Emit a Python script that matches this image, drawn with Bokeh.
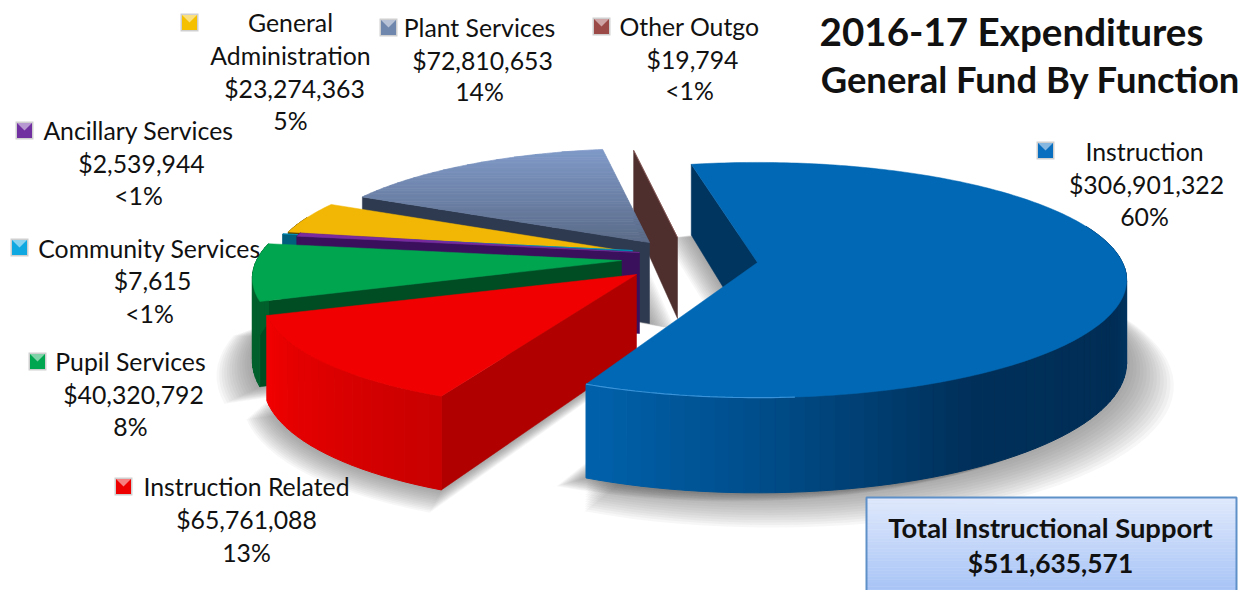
import math
from bokeh.plotting import figure
from bokeh.models import Range1d
from bokeh.core.properties import value
from bokeh.embed import file_html
from bokeh.resources import INLINE

# ---- data ----
categories = ["Instruction", "Instruction Related", "Pupil Services", "Community Services",
              "Ancillary Services", "General Administration", "Plant Services", "Other Outgo"]
amounts = [306901322, 65761088, 40320792, 7615, 2539944, 23274363, 72810653, 19794]
percents = ["60%", "13%", "8%", "<1%", "<1%", "5%", "14%", "<1%"]
total_label = "Total Instructional Support"
total_amount = 511635571
title_lines = ["2016-17 Expenditures", "General Fund By Function"]

# ---- layout ----
W, H = 1250, 590
START = -102.0
RX, RV, K, DEPTH = 365.0, 115.0, 0.149, 81.0
# apex x, apex y, radius scale, skew
GEOM = [(757, 262, 1.0, 0), (636, 274, 1.0, -150), (621, 260, 1.0, 0), (632, 250, .99, 0),
        (639, 252, .97, 0), (627, 251, .97, 0), (649, 242, .94, 0), (677, 237, .88, 0)]
# small view-angle corrections of a slice's (start, end)
ANG = {6: (0.0, 3.0), 7: (3.0, 3.0)}
TOP = ["#0068b4", "#f00000", "#00a64f", "#00a0d0", "#7a2a9e", "#f2b705", "#7f97c6", "#8a5a58"]
WALL = ["#003560", "#b00000", "#004d24", "#005f7c", "#3a0f5c", "#5a4400", "#2e3a50", "#4f2f2e"]
LEG = ["#0b6fc0", "#ee0000", "#00a650", "#10a8e0", "#7030a0", "#f5c000", "#6f86ad", "#9c4a48"]
BAND = {0: [(-30, "#003a6a"), (0, "#003a6a"), (25, "#002d55"), (60, "#00305a"), (90, "#004d8a"), (114, "#0062ac")],
        1: [(114, "#c80000"), (135, "#dc0000"), (161, "#f40000")],
        2: [(160, "#00602c"), (189, "#00602c")],
        }

def hex2(c): return [int(c[i:i+2], 16) for i in (1, 3, 5)]
def mix(a, b, t):
    A, B = hex2(a), hex2(b)
    return "#%02x%02x%02x" % tuple(round(A[i] + (B[i] - A[i]) * t) for i in range(3))

def pt(i, th, r=1.0):
    ax, ay, rs, sk = GEOM[i]
    t = math.radians(th)
    v = math.sin(t) * r
    s = 1 / (1 - K * v)
    return (ax + RX * rs * r * math.cos(t) * s + sk * (s - 1),
            ay + RV * rs * v * s,
            DEPTH * s)

def frange(a, b, step=1.5):
    n = max(2, int(abs(b - a) / step) + 1)
    return [a + (b - a) * j / (n - 1) for j in range(n)]

def band_color(i, th):
    stops = BAND.get(i)
    if not stops:
        return WALL[i]
    if th <= stops[0][0]:
        return stops[0][1]
    for (a, ca), (b, cb) in zip(stops, stops[1:]):
        if th <= b:
            return mix(ca, cb, (th - a) / (b - a))
    return stops[-1][1]

def clip(poly, y0, y1):
    def half(P, keep, cross):
        out = []
        for k in range(len(P)):
            a, b = P[k], P[(k + 1) % len(P)]
            if keep(a):
                out.append(a)
            if keep(a) != keep(b):
                t = (cross - a[1]) / (b[1] - a[1])
                out.append((a[0] + (b[0] - a[0]) * t, cross))
        return out
    P = half(poly, lambda q: q[1] >= y0, y0)
    if P:
        P = half(P, lambda q: q[1] <= y1, y1)
    return P

p = figure(width=W, height=H, output_backend="svg", toolbar_location=None,
           x_range=Range1d(0, W), y_range=Range1d(H, 0),
           x_axis_type=None, y_axis_type=None, min_border=0,
           outline_line_color=None, background_fill_color="white", border_fill_color="white")
p.grid.visible = False

total = sum(amounts)
spans = []
a = START
for k, v in enumerate(amounts):
    b = a + 360.0 * v / total
    d0, d1 = ANG.get(k, (0.0, 0.0))
    spans.append((a + d0, b + d1))
    a = b

# soft shadow under the pie
SH = [(0, 1.09, 14, 14), (0, 1.02, -26, 4), (1, 1.05, -2, 12), (2, 1.07, -10, 8), (6, 1.0, 26, 6)]
for i, grow, dx, dy in SH:
    a, b = spans[i]
    ax, ay, _, _ = GEOM[i]
    for n in range(14, -1, -1):
        f = n / 14
        xs, ys = [ax + dx * f], [ay + DEPTH + dy * f]
        for th in frange(a, b, 3):
            x, y, d = pt(i, th)
            xs.append(ax + dx * f + (x - ax) * (1 + (grow - 1) * f))
            ys.append(ay + dy * f + (y + d - ay) * (1 + (grow - 1) * f))
        p.patch(xs, ys, fill_color="#606060", fill_alpha=0.05, line_color=None)

for i in [7, 6, 5, 3, 4, 2, 1, 0]:
    a, b = spans[i]
    # start wall
    x0, y0, d0 = pt(i, a)
    ax, ay, _, _ = GEOM[i]
    p.patch([ax, x0, x0, ax], [ay, y0, y0 + d0, ay + DEPTH],
            fill_color=WALL[i], line_color=WALL[i], line_width=0.5)
    # rim side
    ths = [t for t in frange(a, b, 2.0) if math.sin(math.radians(t)) > -0.35]
    qx, qy, qc = [], [], []
    for t0, t1 in zip(ths, ths[1:]):
        x1, y1, d1 = pt(i, t0)
        x2, y2, d2 = pt(i, t1)
        qx.append([x1, x2, x2, x1])
        qy.append([y1, y2, y2 + d2, y1 + d1])
        qc.append(band_color(i, (t0 + t1) / 2))
    if qx:
        p.patches(qx, qy, fill_color=qc, line_color=qc, line_width=1.0)
    # top
    poly = [(ax, ay)] + [pt(i, t)[:2] for t in frange(a, b, 1.0)]
    if i == 6:
        ymin, ymax = min(q[1] for q in poly), max(q[1] for q in poly)
        gx, gy, gc = [], [], []
        N = 36
        for n in range(N):
            y0b = ymin + (ymax - ymin) * n / N
            y1b = ymin + (ymax - ymin) * (n + 1) / N
            c = clip(poly, y0b, y1b)
            if len(c) >= 3:
                gx.append([q[0] for q in c])
                gy.append([q[1] for q in c])
                gc.append(mix("#809ac9", "#5a6b88", (n + .5) / N))
        p.patches(gx, gy, fill_color=gc, line_color=gc, line_width=0.7)
    else:
        p.patch([q[0] for q in poly], [q[1] for q in poly], fill_color=TOP[i], line_color=TOP[i], line_width=0.5)

# front-edge highlight on the instruction slice
rim = [pt(0, t)[:2] for t in frange(spans[0][1], 85, 1.0)]
p.line([q[0] for q in rim], [q[1] for q in rim], line_color="#3a93d8", line_width=1.2)

# total box with vertical gradient
BX0, BX1, BY0, BY1 = 866, 1236, 497, 592
gy0 = [BY0 + (BY1 - BY0) * n / 30 for n in range(31)]
cols = [mix("#e0e9fc", "#a6c3f6", (n + .5) / 30) for n in range(30)]
p.quad(left=[BX0] * 30, right=[BX1] * 30, top=gy0[:-1], bottom=gy0[1:], fill_color=cols, line_color=cols, line_width=0.5)
p.line([BX0, BX0, BX1, BX1], [BY1, BY0, BY0, BY1], line_color="#5f90c8", line_width=2)

# legend markers + labels
FONT = value("Lato")
def label(x, y, s, size="24.8px", style="normal"):
    p.text([x], [y], text=[s], text_font=FONT, text_font_size=size, text_font_style=style,
           text_align="center", text_baseline="middle", text_color="#111111")

def marker(i, x, y):
    p.rect([x], [y], width=18, height=18, fill_color="#cfcfcf", line_color=None)
    c = LEG[i]
    p.rect([x], [y], width=15, height=15, fill_color=c, line_color=None)
    p.patch([x - 7.5, x + 7.5, x], [y - 7.5, y - 7.5, y], fill_color=mix(c, "#ffffff", .5), line_color=None)

POS = {  # marker x,y ; name lines with x,y ; amount x,y ; percent x,y
    0: ((1045, 150), [(1144, 151)], (1146, 184), (1144, 216)),
    1: ((123, 486), [(246, 486)], (246, 519), (246, 552)),
    2: ((37, 361), [(130, 361)], (133, 394), (130, 426)),
    3: ((19, 247), [(149, 248)], (152, 280), (149, 313)),
    4: ((24, 130), [(138, 130)], (141, 163), (138, 195)),
    5: ((189, 22), [(290, 22), (290, 55)], (294, 88), (290, 120)),
    6: ((388, 27), [(479, 27)], (482, 60), (479, 91)),
    7: ((601, 26), [(689, 26)], (692, 59), (689, 90)),
}
for i, (m, names, am, pc) in POS.items():
    marker(i, *m)
    parts = [categories[i]] if len(names) == 1 else categories[i].split(" ")
    for (x, y), s in zip(names, parts):
        label(x, y, s)
    label(am[0], am[1], "${:,}".format(amounts[i]))
    label(pc[0], pc[1], percents[i])

label(1011, 30, title_lines[0], "38.6px", "bold")
label(1030, 78, title_lines[1], "36.4px", "bold")
label(1050, 527, total_label, "27.4px", "bold")
label(1050, 562, "${:,}".format(total_amount), "26.4px", "bold")

open("out.html", "w").write(file_html(p, INLINE))
